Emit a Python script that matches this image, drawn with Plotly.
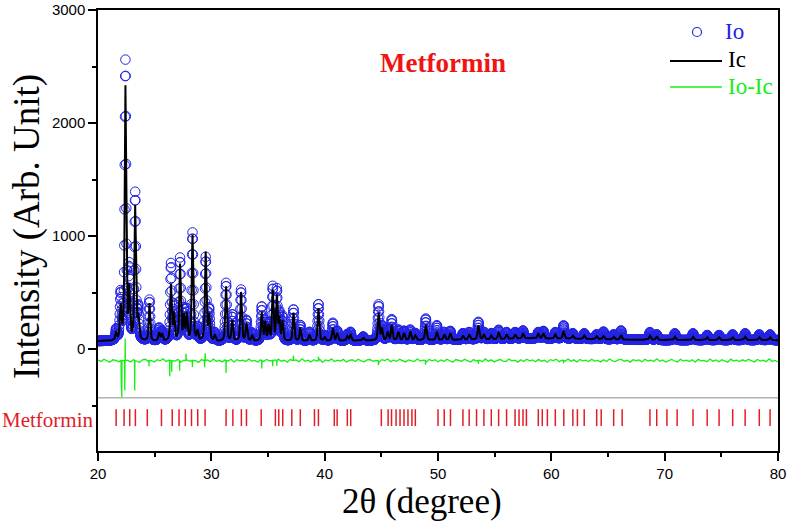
import numpy as np
import plotly.graph_objects as go

# ---------------- data ----------------
# peak positions (2theta), observed total height, calculated total height, FWHM
peak_pos = [21.60, 22.00, 22.42, 22.76, 23.28, 23.55, 24.54, 25.40, 25.65, 26.44,
            26.70, 27.24, 27.58, 27.83, 28.34, 28.78, 29.50, 29.80, 30.30, 31.30,
            31.85, 32.62, 33.10, 33.60, 34.45, 34.75, 35.05, 35.42, 35.78, 36.00,
            36.28, 37.25, 37.85, 38.65, 39.45, 40.00, 40.72, 41.10, 42.00, 42.28,
            43.40, 44.76, 45.05, 45.55, 45.92, 46.50, 47.00, 47.55, 48.00, 48.92,
            49.90, 50.55, 51.08, 52.20, 52.75, 53.56, 54.05, 54.70, 55.35, 56.05,
            56.80, 57.50, 58.85, 59.30, 60.35, 61.08, 61.90, 62.90, 64.00, 64.60,
            65.50, 66.15, 68.70, 69.30, 70.90, 72.50, 73.75, 74.80, 76.00, 77.10,
            78.35, 79.30]
peak_obs = [160, 470, 2530, 680, 1360, 330, 430, 180, 150, 740,
            360, 790, 330, 330, 1020, 180, 800, 340, 140, 580,
            300, 520, 250, 140, 370, 240, 220, 540, 510, 300,
            280, 350, 210, 150, 400, 120, 230, 160, 130, 150,
            110, 390, 200, 170, 260, 170, 160, 170, 140, 270,
            210, 150, 160, 140, 150, 240, 150, 140, 170, 150,
            150, 165, 150, 160, 150, 210, 140, 140, 130, 155,
            130, 165, 150, 130, 140, 140, 125, 125, 130, 140,
            130, 130]
peak_calc = [140, 360, 2310, 500, 1250, 260, 400, 140, 130, 560,
             300, 740, 280, 300, 1000, 150, 850, 290, 120, 550,
             250, 500, 220, 120, 320, 230, 200, 510, 460, 260,
             240, 320, 190, 125, 360, 105, 185, 140, 115, 125,
             100, 320, 180, 150, 215, 150, 140, 155, 120, 215,
             155, 130, 140, 120, 130, 212, 130, 120, 150, 130,
             130, 140, 135, 140, 130, 155, 120, 120, 115, 115,
             110, 125, 120, 110, 110, 110, 105, 105, 105, 110,
             105, 105]
peak_fwhm = [0.14, 0.16, 0.15, 0.14, 0.15, 0.16, 0.14, 0.16, 0.16, 0.15,
             0.15, 0.15, 0.15, 0.14, 0.15, 0.15, 0.15, 0.16, 0.16, 0.15,
             0.16, 0.15, 0.16, 0.16, 0.15, 0.14, 0.15, 0.15, 0.15, 0.14,
             0.14, 0.15, 0.15, 0.16, 0.15, 0.16, 0.15, 0.16, 0.16, 0.16,
             0.22, 0.15, 0.16, 0.16, 0.15, 0.17, 0.17, 0.16, 0.17, 0.16,
             0.16, 0.17, 0.17, 0.17, 0.17, 0.16, 0.17, 0.17, 0.17, 0.17,
             0.17, 0.17, 0.17, 0.17, 0.17, 0.17, 0.17, 0.17, 0.17, 0.17,
             0.17, 0.17, 0.18, 0.18, 0.18, 0.18, 0.18, 0.18, 0.18, 0.18,
             0.18, 0.18]

# background level
bkg_x = [20, 25, 30, 35, 40, 45, 50, 55, 58, 62, 66, 70, 75, 80]
bkg_y = [70, 68, 66, 68, 72, 76, 80, 86, 95, 92, 85, 80, 80, 80]

# difference curve (Io-Ic, shown offset at -100): small wiggles every 0.25 deg
resid_offset = -100
resid_noise = [5, -8, 12, -3, -15, 7, 2, -10, 14, -6, 3, -12, 9, -4, -18, 6, 11, -7, 1, -13,
               8, -2, 15, -9, 4, -11, -5, 10, -14, 3, 7, -6, 12, -1, -16, 9, -3, 5, -10, 13,
               -7, 2, -12, 6, -4, 11, -15, 8, -2, 4, -9, 14, -5, 1, -13, 7, -8, 10, -3, -11,
               6, 12, -6, 2, -14, 9, -1, 5, -10, 15, -7, 3, -12, 8, -4, 11, -16, 6, -2, 13,
               -9, 4, -5, 10, -13, 1, 7, -8, 12, -3, -11, 5, 9, -6, 2, -15, 8, -1, 14, -10,
               3, -7, 11, -4, -12, 6, 1, -9, 13, -5, 4, -14, 10, -2, 7, -11, 5, -8, 12, -3,
               -15, 9, 2, -6, 11, -1, -13, 8, -4, 3, -10, 14, -7, 6, -12, 1, 9, -5, -9, 13,
               -2, 4, -14, 7, -8, 11, -3, 5, -11, 10, -6, 2, -15, 8, -1, 12, -10, 3, -4, 14,
               -7, 6, -13, 9, -2, 4, -9, 11, -5, 1, -12, 7, -8, 13, -3, -10, 5, 10, -6, 2,
               -14, 8, -1, 6, -11, 12, -4, 3, -9, 15, -7, 5, -13, 1, 9, -2, -12, 11, -5, 4,
               -8, 7, -15, 10, -3, 2, -10, 13, -6, 5, -11, 8, -1, -14, 12, -4, 3, -9, 6, -7,
               11, -2, -13, 9, -5, 4, -10, 14, -8, 1, -12]
resid_spike_pos = [22.05, 22.10, 22.36, 22.40, 23.24, 24.50, 26.33, 26.50, 27.20, 27.77,
                   28.33, 29.40, 29.46, 31.30, 34.45, 35.42, 35.78, 37.24, 39.45, 44.74,
                   48.90, 53.56, 61.08]
resid_spike_val = [-260, -425, -365, 95, -365, -150, -240, -200, -190, -40,
                   -160, -160, -35, -210, -170, -150, -145, -55, -65, -140,
                   -140, -130, -125]

# Bragg reflection positions (Metformin)
hkl_pos = [21.6, 22.3, 22.8, 23.3, 24.35, 25.6, 26.55, 27.15, 27.7, 28.25, 28.8, 29.45,
           31.3, 31.9, 32.65, 33.1, 34.4, 35.65, 35.95, 36.3, 37.1, 37.85, 39.1, 39.45,
           40.85, 41.1, 42.0, 42.3, 45.0, 45.6, 45.9, 46.3, 46.65, 47.0, 47.35, 47.7, 48.0,
           50.0, 50.55, 51.1, 52.2, 52.75, 53.4, 54.05, 54.7, 55.35, 56.05, 56.8, 57.15,
           57.5, 57.8, 58.85, 59.2, 59.65, 60.35, 61.1, 61.9, 62.3, 62.9, 64.0, 64.4, 65.5,
           66.25, 68.7, 69.3, 70.2, 71.1, 72.5, 73.75, 74.8, 76.0, 77.1, 78.35, 79.3]
hkl_top, hkl_bottom = -530, -680
sep_line_y = -430

# ---------------- profile construction ----------------
def profile(x, heights):
    bkg = np.interp(x, bkg_x, bkg_y)
    y = bkg.copy()
    for p, h, w in zip(peak_pos, heights, peak_fwhm):
        amp = h - np.interp(p, bkg_x, bkg_y)
        d = (x - p) / (w / 2)
        y += amp * (0.6 / (1 + d ** 2) + 0.4 * np.exp(-np.log(2) * d ** 2))
    return y

x_obs = np.round(np.arange(20.0, 80.0001, 0.02), 4)
y_obs = profile(x_obs, peak_obs)
x_calc = np.round(np.arange(20.0, 80.0001, 0.005), 4)
y_calc = profile(x_calc, peak_calc)

nx = np.linspace(20, 80, len(resid_noise))
pts = []
for xv, nv in zip(nx, resid_noise):
    if min(abs(xv - p) for p in resid_spike_pos) > 0.03:
        pts.append((xv, resid_offset + nv))
for p, v in zip(resid_spike_pos, resid_spike_val):
    pts += [(p - 0.015, resid_offset), (p, v), (p + 0.015, resid_offset)]
pts.sort(key=lambda t: t[0])
rx = [t[0] for t in pts]
ry = [t[1] for t in pts]

hx, hy = [], []
for p in hkl_pos:
    hx += [p, p, None]
    hy += [hkl_top, hkl_bottom, None]

# ---------------- figure ----------------
BLUE = "rgb(35,35,230)"
GREEN = "rgb(20,240,20)"
fig = go.Figure()
fig.add_trace(go.Scatter(x=x_obs, y=y_obs, mode="markers", name="Io",
                         marker=dict(symbol="circle-open", size=9.5, color=BLUE,
                                     line=dict(width=1, color=BLUE)),
                         showlegend=False))
fig.add_trace(go.Scatter(x=x_calc, y=y_calc, mode="lines", name="Ic",
                         line=dict(color="black", width=2), showlegend=False))
fig.add_trace(go.Scatter(x=rx, y=ry, mode="lines", name="Io-Ic",
                         line=dict(color=GREEN, width=1.3), showlegend=False))
fig.add_trace(go.Scatter(x=hx, y=hy, mode="lines", name="Metformin",
                         line=dict(color="rgb(225,30,40)", width=1.5), showlegend=False))

L, R, T, B = 98, 11, 10, 73
W, H = 789, 524
pw, ph = W - L - R, H - T - B

def px(xp):
    return (xp - L) / pw

def py(yp):
    return (H - B - yp) / ph

shapes = [
    dict(type="line", xref="paper", yref="y", x0=0, x1=1, y0=sep_line_y, y1=sep_line_y,
         line=dict(color="rgb(140,140,140)", width=1)),
    # legend symbols
    dict(type="circle", xref="paper", yref="paper", xsizemode="pixel", ysizemode="pixel",
         xanchor=px(697), yanchor=py(32), x0=-4.5, x1=4.5, y0=-4.5, y1=4.5,
         line=dict(color=BLUE, width=1.2)),
    dict(type="line", xref="paper", yref="paper", x0=px(670), x1=px(722), y0=py(61), y1=py(61),
         line=dict(color="black", width=2)),
    dict(type="line", xref="paper", yref="paper", x0=px(670), x1=px(722), y0=py(87), y1=py(87),
         line=dict(color=GREEN, width=1.3)),
]

serif = "Liberation Serif, Times New Roman, serif"
ann = [
    dict(text="Io", x=px(723), y=py(31), xanchor="left", yanchor="middle",
         font=dict(family=serif, size=23, color=BLUE)),
    dict(text="Ic", x=px(726), y=py(60), xanchor="left", yanchor="middle",
         font=dict(family=serif, size=23, color="black")),
    dict(text="Io-Ic", x=px(726), y=py(86), xanchor="left", yanchor="middle",
         font=dict(family=serif, size=23, color=GREEN)),
    dict(text="<b>Metformin</b>", x=px(443), y=py(63), xanchor="center", yanchor="middle",
         font=dict(family=serif, size=27, color="rgb(240,20,20)")),
    dict(text="Metformin", x=px(47.5), y=py(420), xanchor="center", yanchor="middle",
         font=dict(family=serif, size=21, color="rgb(225,30,40)")),
    dict(text="Intensity (Arb. Unit)", x=px(27), y=py(227), xanchor="center", yanchor="middle",
         textangle=-90, font=dict(family=serif, size=37, color="black")),
    dict(text="2θ (degree)", x=px(422), y=py(502), xanchor="center", yanchor="middle",
         font=dict(family=serif, size=35, color="black")),
]
for a in ann:
    a.update(xref="paper", yref="paper", showarrow=False)

axis_common = dict(showline=True, linecolor="black", linewidth=1.5, mirror=True,
                   ticks="outside", ticklen=8, tickwidth=1.5, tickcolor="black",
                   showgrid=False, zeroline=False, automargin=False,
                   tickfont=dict(family="Liberation Sans, Arial, sans-serif", size=15,
                                 color="black"))

fig.update_layout(
    width=W, height=H, margin=dict(l=L, r=R, t=T, b=B, autoexpand=False),
    paper_bgcolor="white", plot_bgcolor="white",
    xaxis=dict(range=[20, 80], dtick=10, tick0=20,
               minor=dict(dtick=5, ticks="outside", ticklen=4, tickwidth=1.5,
                          tickcolor="black"),
               **axis_common),
    yaxis=dict(range=[-900, 3000], dtick=1000, tick0=0,
               minor=dict(dtick=500, ticks="outside", ticklen=4, tickwidth=1.5,
                          tickcolor="black"),
               **axis_common),
    shapes=shapes, annotations=ann, showlegend=False,
)

fig.write_html("out.html")
